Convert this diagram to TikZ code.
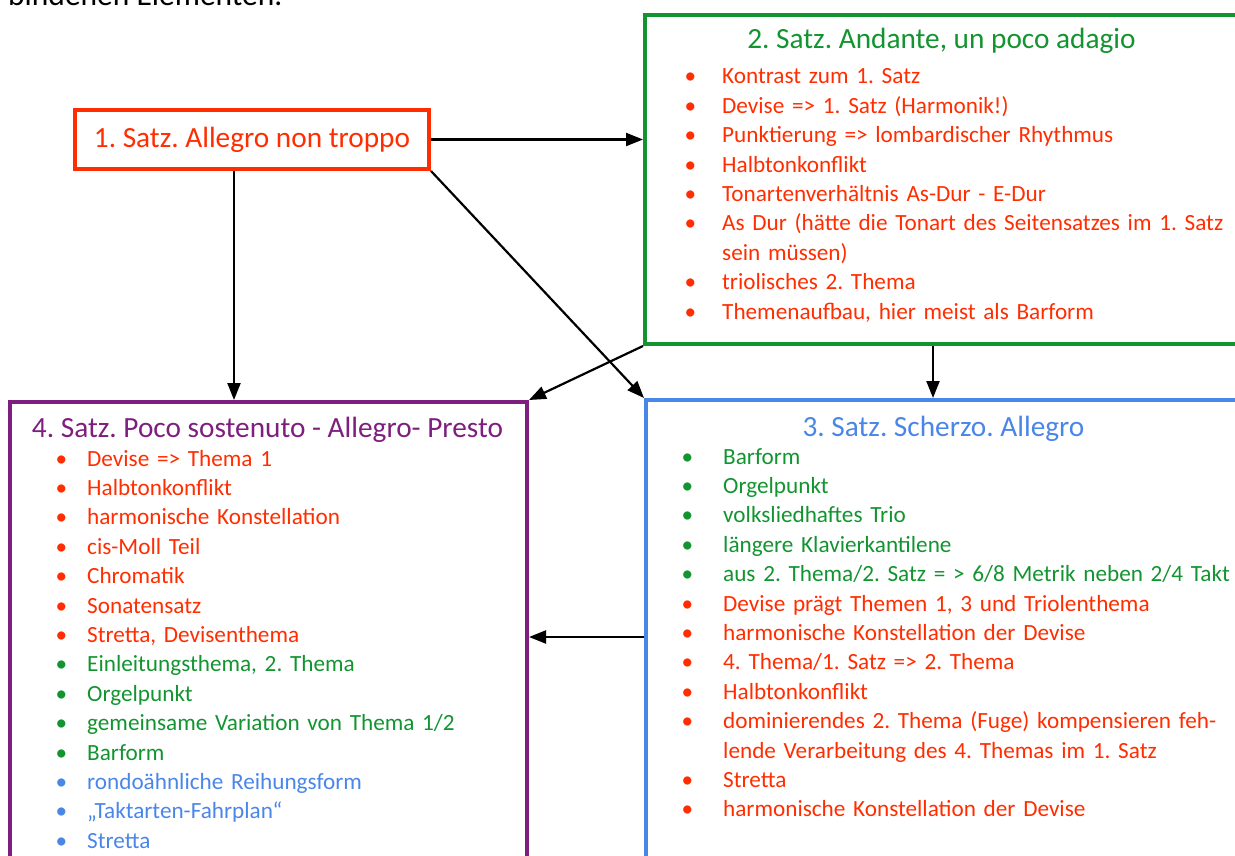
\documentclass[tikz,border=0pt]{standalone}
\usepackage{fontspec}
\setmainfont{Carlito}
\usetikzlibrary{arrows.meta}
\definecolor{satzred}{RGB}{255,45,0}
\definecolor{satzgreen}{RGB}{18,148,48}
\definecolor{satzblue}{RGB}{74,134,232}
\definecolor{satzpurple}{RGB}{126,30,126}
\newlength{\bulgap}
\newcommand{\itm}[2]{\noindent\llap{\textcolor{#1}{\textbullet}\hspace{\bulgap}}\textcolor{#1}{#2}\par}
\frenchspacing
\begin{document}
\begin{tikzpicture}[x=1pt,y=-1pt,
    box/.style={draw,line width=4pt,inner sep=0pt},
    head/.style={anchor=base,inner sep=0pt,font=\fontsize{29.3}{35}\selectfont},
    items/.style={anchor=base west,inner sep=0pt,text width=560pt,align=left,font=\fontsize{23.2}{29.4}\selectfont\frenchspacing},
    arr/.style={-{Triangle[length=17pt,width=13pt]},line width=2.2pt}]
  \useasboundingbox (0,0) rectangle (1235,856);
  \clip (0,0) rectangle (1235,856);

  \node[anchor=base west,inner sep=0pt,font=\fontsize{31.5}{38}\selectfont] (intro) at (8,6) {bindenen Elementen.};

  % boxes
  \node[box,draw=satzred,text=satzred,minimum width=354pt,minimum height=59pt,font=\fontsize{29.3}{35}\selectfont\frenchspacing] (s1) at (252,139.5) {1. Satz. Allegro non troppo};
  \node[box,draw=satzgreen,minimum width=595pt,minimum height=329pt] (s2) at (942.5,179.5) {};
  \node[box,draw=satzblue,minimum width=594pt,minimum height=474pt] (s3) at (943,637) {};
  \node[box,draw=satzpurple,minimum width=517pt,minimum height=518pt] (s4) at (268.5,661) {};

  % 2. Satz
  \node[head,text=satzgreen] (h2) at (941.5,49) {2. Satz. Andante, un poco adagio};
  \node[items] (l2) at (722,84) {\setlength{\bulgap}{26pt}%
    \itm{satzred}{Kontrast zum 1. Satz}
    \itm{satzred}{Devise => 1. Satz (Harmonik!)}
    \itm{satzred}{Punktierung => lombardischer Rhythmus}
    \itm{satzred}{Halbtonkonflikt}
    \itm{satzred}{Tonartenverhältnis As-Dur - E-Dur}
    \itm{satzred}{As Dur (hätte die Tonart des Seitensatzes im 1. Satz\\sein müssen)}
    \itm{satzred}{triolisches 2. Thema}
    \itm{satzred}{Themenaufbau, hier meist als Barform}};

  % 3. Satz
  \node[head,text=satzblue] (h3) at (943.5,436) {3. Satz. Scherzo. Allegro};
  \node[items] (l3) at (723,464) {\setlength{\bulgap}{30pt}%
    \itm{satzgreen}{Barform}
    \itm{satzgreen}{Orgelpunkt}
    \itm{satzgreen}{volksliedhaftes Trio}
    \itm{satzgreen}{längere Klavierkantilene}
    \itm{satzgreen}{aus 2. Thema/2. Satz = > 6/8 Metrik neben 2/4 Takt}
    \itm{satzred}{Devise prägt Themen 1, 3 und Triolenthema}
    \itm{satzred}{harmonische Konstellation der Devise}
    \itm{satzred}{4. Thema/1. Satz => 2. Thema}
    \itm{satzred}{Halbtonkonflikt}
    \itm{satzred}{dominierendes 2. Thema (Fuge) kompensieren feh-\\lende Verarbeitung des 4. Themas im 1. Satz}
    \itm{satzred}{Stretta}
    \itm{satzred}{harmonische Konstellation der Devise}};

  % 4. Satz
  \node[head,text=satzpurple] (h4) at (267.5,437) {4. Satz. Poco sostenuto - Allegro- Presto};
  \node[items] (l4) at (87,466) {\setlength{\bulgap}{20pt}%
    \itm{satzred}{Devise => Thema 1}
    \itm{satzred}{Halbtonkonflikt}
    \itm{satzred}{harmonische Konstellation}
    \itm{satzred}{cis-Moll Teil}
    \itm{satzred}{Chromatik}
    \itm{satzred}{Sonatensatz}
    \itm{satzred}{Stretta, Devisenthema}
    \itm{satzgreen}{Einleitungsthema, 2. Thema}
    \itm{satzgreen}{Orgelpunkt}
    \itm{satzgreen}{gemeinsame Variation von Thema 1/2}
    \itm{satzgreen}{Barform}
    \itm{satzblue}{rondoähnliche Reihungsform}
    \itm{satzblue}{„Taktarten-Fahrplan“}
    \itm{satzblue}{Stretta}};

  % connectors
  \coordinate (c14) at (234,0);
  \coordinate (c23) at (933,0);
  \draw[arr] (s1.east) -- (s1.east -| s2.west);
  \draw[arr] (s1.south -| c14) -- (s4.north -| c14);
  \draw[arr] (s1.south east) -- (s3.north west);
  \draw[arr] (s2.south west) -- (s4.north east);
  \draw[arr] (s2.south -| c23) -- (s3.north -| c23);
  \draw[arr] (s3.west) -- (s3.west -| s4.east);
\end{tikzpicture}
\end{document}
